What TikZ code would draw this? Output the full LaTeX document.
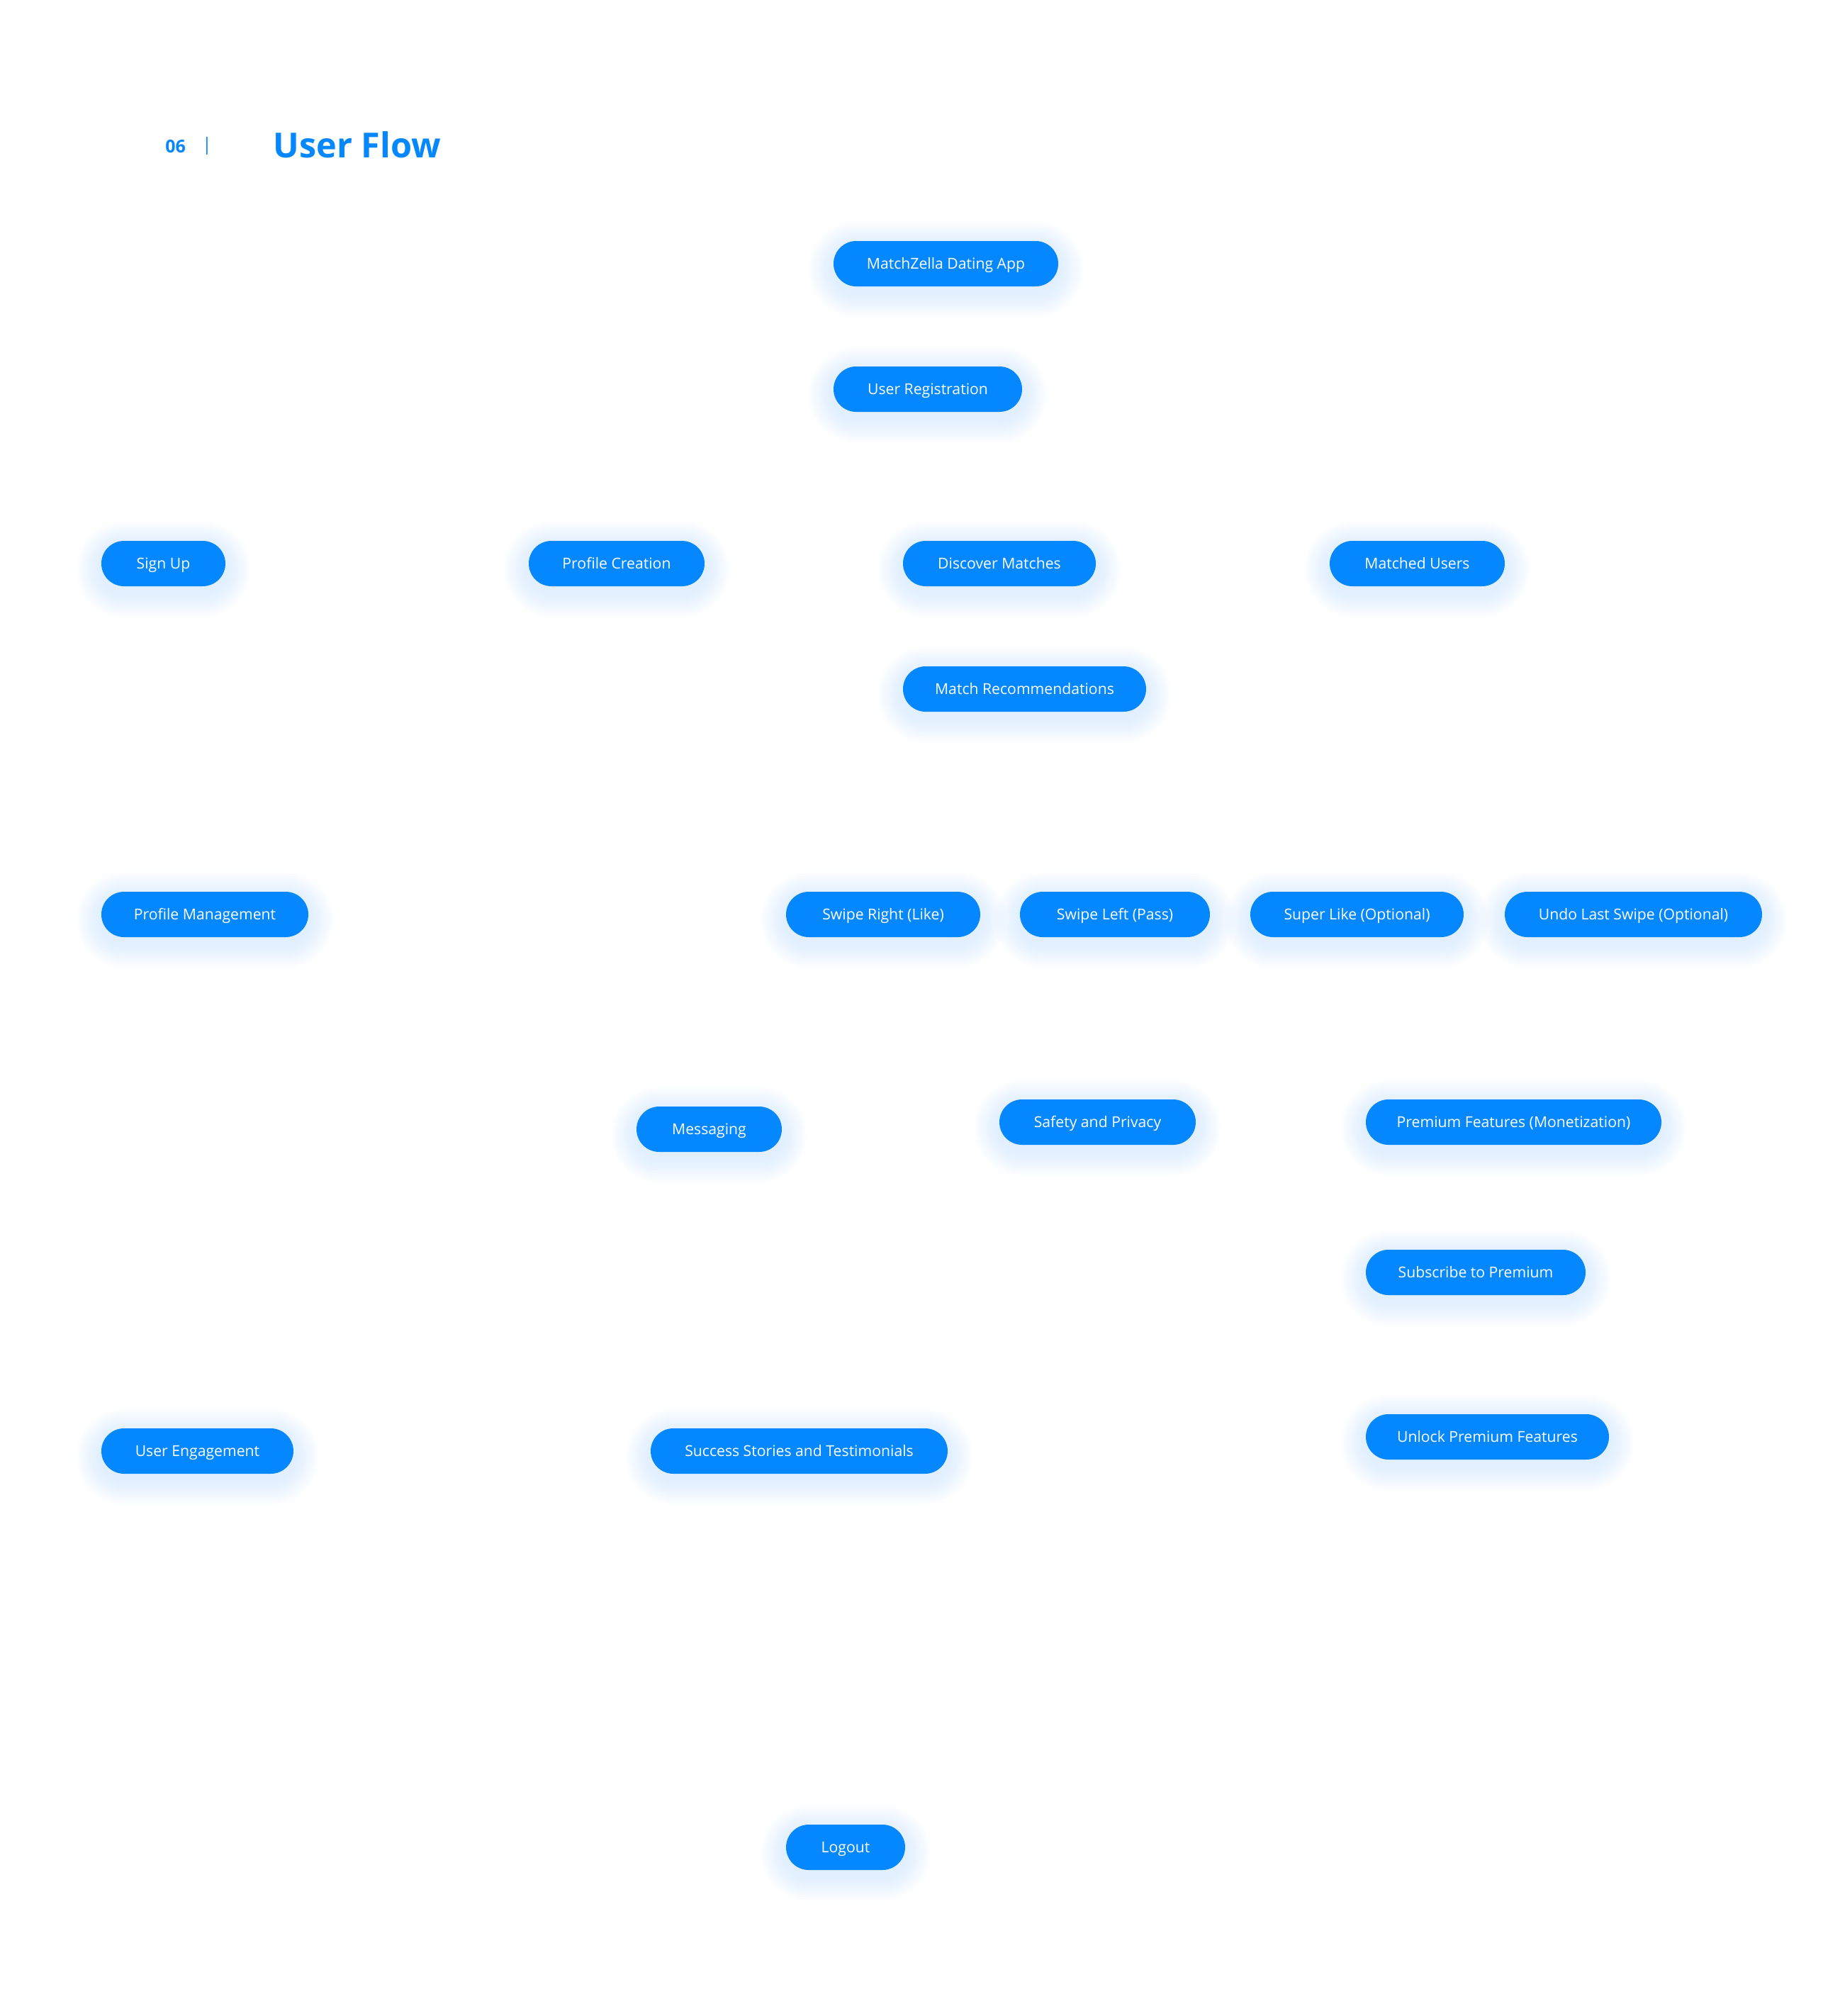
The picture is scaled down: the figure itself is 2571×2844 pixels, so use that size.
\documentclass[tikz,border=0pt]{standalone}
\usepackage{fontspec}
\setmainfont{Open Sans}
\usetikzlibrary{calc,backgrounds}

\definecolor{flowblue}{RGB}{5,135,255}
\definecolor{glowblue}{RGB}{80,160,255}

\tikzset{
	pill/.style={fill=flowblue, text=white, rounded corners=16pt, minimum height=32pt,
		inner sep=0pt, text height=9.8pt, text depth=2.2pt, font=\fontsize{10.6}{13}\selectfont},
	heading/.style={text=flowblue, inner sep=0pt, font=\bfseries},
}

% soft blue glow under a pill
\newcommand{\pillglow}[1]{%
	\foreach \k in {1,...,12}{
		\fill[glowblue, opacity=0.016, rounded corners={16pt+\k*1.5pt}]
			($(#1.south west)+(-\k*1.5pt,-\k*1.5pt-4pt)$) rectangle ($(#1.north east)+(\k*1.5pt,\k*1.5pt-4pt)$);
	}}

\begin{document}
\begin{tikzpicture}[x=0.5pt, y=-0.5pt]
	\useasboundingbox (0,0) rectangle (2571,2844);
	
	% title
	\node[heading, anchor=base west, font=\bfseries\fontsize{12.5}{14}\selectfont] (num) at (233,215) {06};
	\node[heading, font=\fontsize{12.5}{14}\selectfont] (bar) at (292,206) {|};
	\node[heading, anchor=base west, font=\bfseries\fontsize{24.3}{28}\selectfont] (title) at (385,222) {User Flow};
	
	% flow steps
	\node[pill, minimum width=158.5pt] (app) at (1334.5,372) {MatchZella Dating App};
	\node[pill, minimum width=133pt] (reg) at (1309,549) {User Registration};
	
	\node[pill, minimum width=87.5pt] (signup) at (230.5,795) {Sign Up};
	\node[pill, minimum width=124pt] (profile) at (870,795) {Profile Creation};
	\node[pill, minimum width=136pt] (discover) at (1410,795) {Discover Matches};
	\node[pill, minimum width=123.5pt] (matched) at (1999.5,795) {Matched Users};
	\node[pill, minimum width=171.5pt] (recommend) at (1445.5,972) {Match Recommendations};
	
	\node[pill, minimum width=146pt] (manage) at (289,1290) {Profile Management};
	\node[pill, minimum width=137pt] (right) at (1246,1290) {Swipe Right (Like)};
	\node[pill, minimum width=134pt] (left) at (1573,1290) {Swipe Left (Pass)};
	\node[pill, minimum width=150.5pt] (super) at (1914.5,1290) {Super Like (Optional)};
	\node[pill, minimum width=181.5pt] (undo) at (2304.5,1290) {Undo Last Swipe (Optional)};
	
	\node[pill, minimum width=102.5pt] (messaging) at (1000.5,1593) {Messaging};
	\node[pill, minimum width=138.5pt] (safety) at (1548.5,1583) {Safety and Privacy};
	\node[pill, minimum width=208.5pt] (premium) at (2135.5,1583) {Premium Features (Monetization)};
	\node[pill, minimum width=155pt] (subscribe) at (2082,1795) {Subscribe to Premium};
	\node[pill, minimum width=171.5pt] (unlock) at (2098.5,2027) {Unlock Premium Features};
	
	\node[pill, minimum width=135.5pt] (engage) at (278.5,2047) {User Engagement};
	\node[pill, minimum width=209.5pt] (success) at (1127.5,2047) {Success Stories and Testimonials};
	
	\node[pill, minimum width=84pt] (logout) at (1193,2606) {Logout};
	
	\begin{pgfonlayer}{background}
		\foreach \n in {app,reg,signup,profile,discover,matched,recommend,manage,right,left,super,undo,messaging,safety,premium,subscribe,unlock,engage,success,logout}
			\pillglow{\n};
	\end{pgfonlayer}
\end{tikzpicture}
\end{document}
